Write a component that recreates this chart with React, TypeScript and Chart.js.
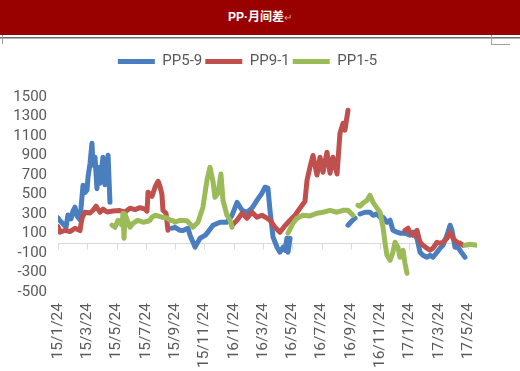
import { useEffect, useRef } from 'react';
import { Chart, registerables } from 'chart.js';

Chart.register(...registerables);

// ---- data (x = months since 15/1/24) ----
const seriesNames = ['PP5-9', 'PP9-1', 'PP1-5'];
const seriesColors = ['#4a7ebf', '#c0504d', '#9bbb59'];

const pp59Months = [
  0, 0.14, 0.34, 0.55, 0.68, 0.89, 1.02, 1.16, 1.3, 1.5, 1.71, 1.84, 1.98, 2.05, 2.19, 2.32, 2.39, 2.53, 2.66, 2.73,
  2.87, 3.07, 3.21, 3.35, 3.42, 3.55, 5.7,
  7.79, 8.0, 8.33, 8.54, 8.88, 9.02, 9.36, 9.7, 10.04, 10.18, 10.59, 11.07, 11.54, 11.89, 12.23, 12.57, 12.91, 13.25,
  13.59, 13.93, 14.14, 14.34, 14.48, 14.69, 14.96, 15.16, 15.37, 15.5, 15.64, 15.71, 15.85, 17.8,
  19.81, 20.08, 20.29, 20.45,
  20.63, 20.97, 21.31, 21.52, 21.79, 22.0, 22.2, 22.47, 22.68, 22.88, 23.16, 23.36, 23.7, 24.04, 24.25, 24.52, 24.73,
  24.93, 25.2, 25.41, 25.61, 25.89, 26.09, 26.3, 26.57, 26.78, 26.91, 27.12, 27.32, 27.6, 27.8,
];
const pp59Values = [
  260, 230, 200, 165, 290, 250, 330, 370, 280, 240, 595, 520, 544, 677, 820, 1026, 800, 882, 560, 780,
  615, 882, 600, 718, 903, 420, null,
  154, 164, 133, 130, 154, 82, -40, 51, 80, 103, 185, 215, 215, 287, 420, 338, 318, 360,
  440, 513, 575, 565, 338, 62, -41, -92, -41, -72, 51, -92, 51, null,
  185, 230, 257, null,
  300, 318, 318, 287, 300, 267, 267, 215, 236, 133, 113, 103, 103, 82, 113, 51, -92,
  -123, -144, -123, -144, -92, -51, -20, 82, 185, 133, -41, -41, -103, -144,
];

const pp91Months = [
  0, 0.14, 0.48, 0.82, 1.16, 1.5, 1.64, 1.84, 2.19, 2.39, 2.6, 2.87, 3.07, 3.35, 3.76, 4.23, 4.58, 4.92, 5.26, 5.6,
  5.94, 6.08, 6.15, 6.42, 6.63, 6.83, 6.97, 7.1, 7.17, 7.38, 7.51, 9.5,
  11.89, 12.23, 12.57, 12.91, 13.25, 13.59, 13.93, 14.28, 14.48, 14.82, 15.16, 15.5, 15.85, 16.19, 16.53, 16.87,
  17.01, 17.21, 17.42, 17.69, 17.9, 18.1, 18.37, 18.58, 18.78, 19.06, 19.26, 19.47, 19.6, 19.81, 21.5,
  23.7, 23.91, 24.04, 24.25, 24.52, 24.73, 24.93, 25.2, 25.41, 25.61, 25.89, 26.09, 26.3, 26.57, 26.78, 26.98,
  27.25, 27.46, 27.66,
];
const pp91Values = [
  170, 113, 133, 120, 154, 130, 257, 318, 310, 338, 380, 318, 350, 320, 330, 335, 320, 360, 345, 365,
  350, 330, 523, 482, 575, 636, 580, 500, 338, 308, 133, null,
  185, 236, 308, 257, 318, 267, 287, 257, 236, 164, 113, 180, 236, 287, 360, 430,
  646, 780, 900, 700, 882, 728, 934, 718, 882, 710, 1128, 1231, 1160, 1365, null,
  133, 154, 113, 82, 133, 10, -20, -51, -72, -51, 10, 0, 10, 51, 113, 51,
  10, 0, -20,
];

const pp15Months = [
  3.69, 3.89, 4.1, 4.37, 4.44, 4.51, 4.58, 4.78, 4.92, 5.12, 5.46, 5.81, 6.15, 6.28, 6.42, 6.63, 6.83, 7.1, 7.45,
  7.65, 7.86, 7.99, 8.33, 8.81, 9.22, 9.56, 9.9, 10.18, 10.38, 10.59, 10.72, 10.93, 11.13, 11.27, 11.54, 11.75,
  11.89, 13.8,
  15.71, 16.05, 16.33, 16.73, 17.21, 17.69, 18.1, 18.58, 19.06, 19.47, 19.81, 20.15, 20.3,
  20.49, 20.63, 20.83, 21.11, 21.31, 21.52, 21.79, 22.0, 22.2, 22.34, 22.47, 22.68, 22.88, 23.02, 23.22, 23.36,
  23.57, 23.7, 23.84, 25.8,
  27.8, 28.14, 28.62,
];
const pp15Values = [
  185, 164, 236, 185, 308, 51, 300, 215, 164, 205, 236, 215, 225, 236, 267, 287, 280, 267, 260,
  236, 230, 215, 236, 230, 164, 215, 370, 650, 780, 630, 472, 513, 710, 441, 287, 236,
  164, null,
  103, 205, 257, 287, 280, 308, 318, 338, 318, 338, 338, 287, null,
  390, 380, 410, 441, 492, 420, 360, 318, 164, 0, -123, -175, -92, 10, -41, -144,
  -72, -205, -308, null,
  -20, -10, -20,
];

const xTickMonths = [0, 2, 4, 6, 8, 10, 12, 14, 16, 18, 20, 22, 24, 26, 28];
const xTickLabels = [
  '15/1/24', '15/3/24', '15/5/24', '15/7/24', '15/9/24', '15/11/24', '16/1/24', '16/3/24',
  '16/5/24', '16/7/24', '16/9/24', '16/11/24', '17/1/24', '17/3/24', '17/5/24',
];
const yTickValues = [-500, -300, -100, 100, 300, 500, 700, 900, 1100, 1300, 1500];

const seriesMonths = [pp59Months, pp91Months, pp15Months];
const seriesValues = [pp59Values, pp91Values, pp15Values];

const zeroAxisPlugin = {
  id: 'zeroAxis',
  afterLayout(chart: any) {
    // legend in the reference is centred slightly right of the plot centre
    if (chart.legend) {
      chart.legend.left += 9;
      chart.legend.right += 9;
    }
  },
  beforeDatasetsDraw(chart: any) {
    const { ctx, chartArea, scales } = chart;
    const y0 = Math.round(scales.y.getPixelForValue(0)) + 0.5;
    ctx.save();
    ctx.strokeStyle = '#d9d9d9';
    ctx.lineWidth = 1;
    ctx.beginPath();
    ctx.moveTo(chartArea.left, y0);
    ctx.lineTo(chartArea.right, y0);
    for (const v of xTickMonths) {
      const x = Math.round(scales.x.getPixelForValue(v)) + 0.5;
      ctx.moveTo(x, y0);
      ctx.lineTo(x, y0 + 6);
    }
    ctx.stroke();
    ctx.restore();
  },
};

export default function App() {
  const canvasRef = useRef<HTMLCanvasElement>(null);

  useEffect(() => {
    if (!canvasRef.current) return;
    const font = { family: 'Roboto', size: 15 };
    const chart = new Chart(canvasRef.current, {
      type: 'line',
      data: {
        datasets: seriesNames.map((name, s) => ({
          label: name,
          data: seriesMonths[s].map((m, i) => ({ x: m, y: seriesValues[s][i] })),
          borderColor: seriesColors[s],
          backgroundColor: seriesColors[s],
          borderWidth: 5,
          pointRadius: 0,
          borderJoinStyle: 'round',
          borderCapStyle: 'round',
          tension: 0,
          spanGaps: false,
          order: 2 - s,
        })),
      },
      options: {
        animation: false,
        responsive: false,
        maintainAspectRatio: false,
        events: [],
        layout: { padding: { top: 11, left: 0, right: 43, bottom: 0 } },
        plugins: {
          legend: {
            position: 'top',
            labels: {
              usePointStyle: true,
              pointStyle: 'line',
              pointStyleWidth: 37,
              padding: 3,
              font,
              color: '#595959',
              sort: (a: any, b: any) => a.datasetIndex - b.datasetIndex,
            },
          },
          subtitle: {
            display: true,
            text: ' ',
            weight: 500,
            position: 'top',
            padding: { top: 17, bottom: 0 },
            font: { size: 1, lineHeight: 1 },
          },
          tooltip: { enabled: false },
        },
        scales: {
          x: {
            type: 'linear',
            min: 0,
            max: 28.62,
            afterBuildTicks: (scale: any) => {
              scale.ticks = xTickMonths.map((v) => ({ value: v }));
            },
            afterFit: (scale: any) => {
              scale.height = 79;
            },
            ticks: {
              autoSkip: false,
              minRotation: 90,
              maxRotation: 90,
              padding: 11,
              font: { family: 'Roboto', size: 15.5 },
              color: '#595959',
              callback: (value: any) => {
                const i = xTickMonths.indexOf(Number(value));
                return i >= 0 ? xTickLabels[i] : '';
              },
            },
            grid: { display: false, drawTicks: false },
            border: { display: false },
          },
          y: {
            min: -500,
            max: 1500,
            afterBuildTicks: (scale: any) => {
              scale.ticks = yTickValues.map((v) => ({ value: v }));
            },
            afterFit: (scale: any) => {
              scale.width = 58;
            },
            ticks: {
              autoSkip: false,
              padding: 11,
              font,
              color: '#595959',
              callback: (value: any) => String(value),
            },
            grid: { display: false, drawTicks: false },
            border: { display: false },
          },
        },
      } as any,
      plugins: [zeroAxisPlugin],
    });
    return () => chart.destroy();
  }, []);

  return (
    <div style={{ position: 'absolute', left: 0, top: 0, width: 520, height: 371, background: '#fff', overflow: 'hidden' }}>
      <div
        style={{
          position: 'absolute', left: 0, top: 0, width: 520, height: 35, background: '#990000',
          color: '#fff', textAlign: 'center', lineHeight: '35px', fontSize: 12, fontWeight: 'bold',
          fontFamily: '"Liberation Sans", "Noto Sans CJK SC", sans-serif',
        }}
      >
        PP·月间差<span style={{ color: '#d9a0a0', fontWeight: 'normal', fontSize: 10 }}>↵</span>
      </div>
      <div style={{ position: 'absolute', left: 0, top: 37, width: 520, height: 1, background: '#6e6e6e' }} />
      <div style={{ position: 'absolute', left: 0, top: 38, width: 520, height: 1, background: '#b0b0b0' }} />
      <div style={{ position: 'absolute', left: 2, top: 35, width: 1, height: 9, background: '#a0a0a0' }} />
      <div style={{ position: 'absolute', left: 491, top: 35, width: 1, height: 9, background: '#a0a0a0' }} />
      <div style={{ position: 'absolute', left: 491, top: 44, width: 19, height: 1, background: '#a0a0a0' }} />
      <canvas
        ref={canvasRef}
        width={520}
        height={331}
        style={{ position: 'absolute', left: 0, top: 40, width: 520, height: 331, display: 'block' }}
      />
    </div>
  );
}
